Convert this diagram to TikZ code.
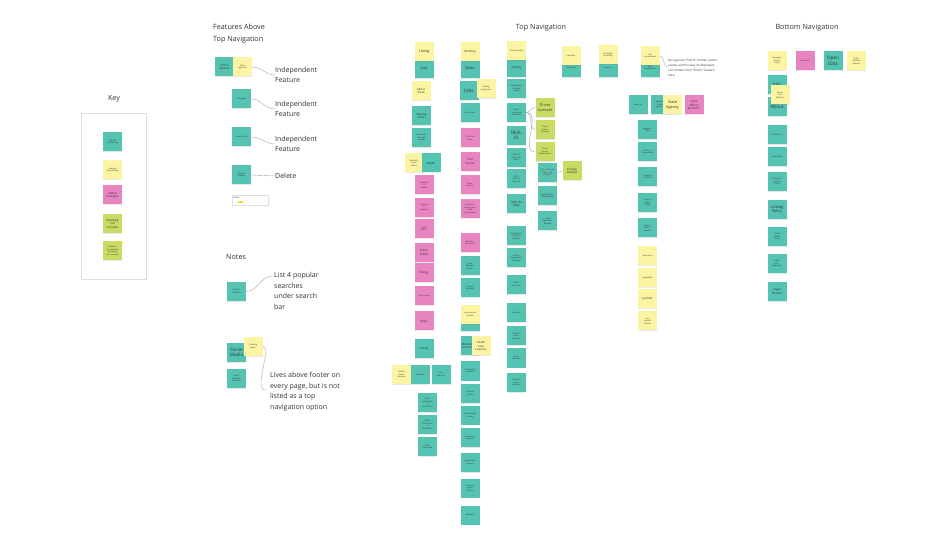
\documentclass[tikz,border=0pt]{standalone}
\usepackage{fontspec}
\setmainfont{Open Sans}
\usetikzlibrary{shadows,positioning}

\definecolor{stickyteal}{HTML}{55C3B1}
\definecolor{stickyyellow}{HTML}{FBF4A3}
\definecolor{stickypink}{HTML}{E884C0}
\definecolor{stickygreen}{HTML}{C8DC63}
\definecolor{ink}{HTML}{333333}
\definecolor{dotyellow}{HTML}{F7DC1E}

\begin{document}
\begin{tikzpicture}[
    x=1pt, y=-1pt,
    sticky/.style={rectangle, minimum width=19pt, minimum height=19pt, inner sep=0.3pt, align=center, text=ink,
        font=\fontsize{2}{2.5}\selectfont, drop shadow={shadow xshift=0pt, shadow yshift=-0.8pt, opacity=0.18}},
    tealnote/.style={sticky, fill=stickyteal},
    yelnote/.style={sticky, fill=stickyyellow},
    pinknote/.style={sticky, fill=stickypink},
    grnnote/.style={sticky, fill=stickygreen},
    midtxt/.style={font=\fontsize{2.9}{3.5}\selectfont},
    bigtxt/.style={font=\fontsize{3.8}{4.6}\selectfont},
    hugetxt/.style={font=\fontsize{4.6}{5.4}\selectfont},
    heading/.style={font=\fontsize{7.2}{12}\selectfont, text=ink, inner sep=0pt},
    remark/.style={font=\fontsize{7}{10.6}\selectfont, text=ink, align=left, inner sep=0pt, anchor=west},
    link/.style={draw=gray!70, line width=0.4pt},
    dot/.style={circle, fill=dotyellow, inner sep=0pt, minimum size=3.2pt}
]
    \useasboundingbox[fill=white] (0,0) rectangle (950,534);

    % headings
    \node[heading] (keyhead) at (114,99) {Key};
    \node[heading, anchor=west, align=left] (feathead) at (213,34) {Features Above\\Top Navigation};
    \node[heading] (tophead) at (541,28) {Top Navigation};
    \node[heading] (bothead) at (807,28) {Bottom Navigation};
    \node[heading, anchor=west] (noteshead) at (226,257) {Notes};

    % key
    \node[draw=gray!25, fill=white, minimum width=65pt, minimum height=166pt,
        drop shadow={shadow xshift=0pt, shadow yshift=-1pt, opacity=0.12}] (keyframe) at (113.5,196) {};
    \node[tealnote] (keyorig) at (112.5,142) {Original\\Terminology};
    \node[yelnote] (keyupd) at (112.5,170) {Updated\\Terminology};
    \node[pinknote, midtxt] (keyadd) at (112.5,195) {Added\\Concepts};
    \node[grnnote, midtxt] (keybreak) at (112.5,224) {Breaking\\out\\concepts};
    \node[grnnote] (keybreakupd) at (112.5,251) {Updated\\terminology\\breaking\\out concepts};
    \node[dot] (keydot) at (121.5,242.5) {};

    % features above top navigation
    \node[tealnote, midtxt] (findit) at (224.5,67) {Find It\\Feature};
    \node[yelnote] (stateag) at (242.5,67) {State\\Agencies};
    \node[remark] (indep1) at (275,75) {Independent\\Feature};
    \node[tealnote] (lang) at (241.5,99) {Language};
    \node[remark] (indep2) at (275,109) {Independent\\Feature};
    \node[tealnote] (access) at (241.5,137) {Accessibility};
    \node[remark] (indep3) at (275,144) {Independent\\Feature};
    \node[tealnote] (wrench) at (241.5,175) {Wrench\\Settings};
    \node[remark] (delete) at (275,176) {Delete};
    \node[draw=gray!25, fill=white, minimum width=36pt, minimum height=10pt] (notecard) at (250,200) {};
    \node[font=\fontsize{2.2}{2.6}\selectfont, text=ink, anchor=west, inner sep=0pt] (notecardlbl) at (233.5,197.5) {Notes};
    \node[fill=dotyellow, minimum width=5pt, minimum height=2pt, inner sep=0pt] (notecardbar) at (240.5,202.5) {};

    \draw[link] (stateag.east) to[out=0,in=180] (indep1.west);
    \draw[link] (lang.east) to[out=0,in=180] (indep2.west);
    \draw[link] (access.east) to[out=0,in=180] (indep3.west);
    \draw[link] (wrench.east) -- (delete.west);

    % notes
    \node[tealnote] (popular) at (236.5,291.5) {Popular\\Searches};
    \node[remark, anchor=north west] (list4) at (274,272) {List 4 popular\\searches\\under search\\bar};
    \node[tealnote, hugetxt] (social) at (236.5,352.5) {Social\\Media};
    \node[yelnote] (trending) at (253,346.5) {Trending\\News};
    \node[tealnote] (socialag) at (236.5,378.5) {Social\\Media By\\Agencies};
    \node[remark, anchor=north west] (lives) at (270,372) {Lives above footer on\\every page, but is not\\listed as a top\\navigation option};

    \draw[link] (popular.east) to[out=0,in=180] ([xshift=-2pt,yshift=-4pt]list4.north west);
    \draw[link] (trending.east) .. controls +(10,0) and +(-14,2) .. ([xshift=-4pt,yshift=-18pt]lives.north west);

    % top navigation: living
    \node[tealnote, bigtxt] (live) at (424,68.5) {Live};
    \node[yelnote, bigtxt] (living) at (424,51.5) {Living};
    \node[yelnote, midtxt] (abouttx) at (421,91) {About\\Texas};
    \node[tealnote, midtxt] (moving) at (421.5,116) {Moving\\Here};
    \node[tealnote] (newtx) at (421.5,137.5) {Resources\\for New\\Texans};
    \node[yelnote] (healthsj) at (414,163) {Health \&\\Social\\Justice};
    \node[tealnote, midtxt] (health) at (431,163) {Health};
    \node[pinknote] (families) at (424,185) {Families\\\&\\Children};
    \node[pinknote] (housing) at (424,207.5) {Housing\\\&\\Property};
    \node[pinknote] (legal) at (424,229) {Legal \&\\Justice};
    \node[pinknote, midtxt] (pubsafety) at (424,252.5) {Public\\Safety};
    \node[pinknote, midtxt] (energy) at (424,273) {Energy};
    \node[pinknote] (environ) at (424,296) {Environment};
    \node[pinknote, midtxt] (taxes) at (424,321) {Taxes};
    \node[tealnote, midtxt] (voting) at (424,349) {Voting};
    \node[yelnote] (vitalpub) at (401.5,374.5) {Vital \&\\Public\\Records};
    \node[tealnote] (records1) at (420.5,374.5) {Records};
    \node[tealnote] (vitalrec) at (441,374.5) {Vital\\Records};
    \node[tealnote] (birthcert) at (427.5,402.5) {Birth\\Certificates\\\&\\Verification};
    \node[tealnote] (deathcert) at (427.5,424.5) {Death\\Certificates\\\&\\Verification};
    \node[tealnote] (marrcert) at (427.5,446.5) {Birth\\Certificate};

    % top navigation: working
    \node[tealnote, bigtxt] (work) at (470,68.5) {Work};
    \node[yelnote, midtxt] (working) at (470,51.5) {Working};
    \node[tealnote, hugetxt] (jobs) at (469,91) {Jobs};
    \node[yelnote] (findemp) at (486,88.5) {Finding\\Employees};
    \node[tealnote] (intern) at (470,112.5) {Internships};
    \node[pinknote] (workfortx) at (470,138) {Work for\\Texas};
    \node[pinknote, midtxt] (civil) at (470,161.5) {Civil\\Service};
    \node[pinknote] (career) at (470,185) {Career\\Services};
    \node[pinknote] (workforce) at (470,209) {Workforce\\Training and\\Labor\\Development};
    \node[pinknote] (busres) at (470,243) {Business\\Resources};
    \node[tealnote] (bizadvisor) at (470,266) {Texas\\Business\\Advisor};
    \node[tealnote] (doingbiz) at (470,288) {Doing\\Business};
    \node[tealnote] (licenses) at (470,322) {Licenses};
    \node[yelnote] (licperm) at (470,314.5) {Licenses and\\Permits};
    \node[tealnote, midtxt, text width=17pt, align=left] (medlic) at (470,346) {Medical\\Licenses};
    \node[yelnote, midtxt] (healthcare) at (481,346) {Health\\Care\\Licenses};
    \node[tealnote] (accountlic) at (470,371) {Accounting\\License};
    \node[tealnote] (archlic) at (470,393.5) {Architect\\License};
    \node[tealnote] (cosmolic) at (470,415) {Cosmetology\\License};
    \node[tealnote] (eleclic) at (470,437.5) {Electrician\\License};
    \node[tealnote] (englic) at (470,462.5) {Engineering\\License};
    \node[tealnote] (inslic) at (470,488) {Insurance\\Agent\\License};
    \node[tealnote] (business) at (470,515) {Business};

    % top navigation: transportation
    \node[tealnote, midtxt] (driving) at (516.5,68) {Driving};
    \node[yelnote] (transport) at (516.5,51) {Transportation};
    \node[tealnote] (dpsagency) at (516.5,89) {Department\\of Public\\Safety};
    \node[tealnote] (dlrenew) at (516.5,112.5) {Driver\\Licenses \&\\Renewals};
    \node[tealnote, hugetxt] (realid) at (516.5,135.5) {REAL\\ID};
    \node[tealnote] (realiddoc) at (516.5,157.5) {REAL ID\\Document\\Check};
    \node[tealnote] (dpsweb) at (516.5,179) {DPS\\REAL ID\\website};
    \node[tealnote, midtxt] (realidfaq) at (516.5,204) {REAL ID\\FAQs};
    \node[tealnote] (dmv) at (516.5,236) {Department\\of Motor\\Vehicles};
    \node[tealnote] (vehreg) at (516.5,258) {Vehicle\\Registration\\Renewal};
    \node[tealnote] (drivered) at (516.5,284.5) {Driver\\Education};
    \node[tealnote] (records2) at (516.5,312.5) {Records};
    \node[tealnote] (certrec) at (516.5,336) {Certified\\Driver\\Records};
    \node[tealnote] (drvrec) at (516.5,358) {Driver\\Records};
    \node[tealnote] (persrec) at (516.5,382.5) {Personal\\Driver\\Records};

    \node[grnnote, bigtxt] (drvlic) at (545,107.5) {Driver\\Licenses};
    \node[grnnote] (drvlicren) at (545,129.5) {Driver\\License\\Renewal};
    \node[grnnote] (drvrecrep) at (545,152) {Driver\\Record\\Replacement};
    \node[dot] (dotren) at (553.5,122) {};
    \node[dot] (dotrep) at (553.5,144.5) {};
    \node[tealnote] (addrold) at (547.5,172.5) {Driver License\\Change of\\Address};
    \node[grnnote, midtxt] (chgaddr) at (572,171) {Change\\Address};
    \node[tealnote] (vehtitle) at (547.5,196) {Vehicle Title\\\& Registration};
    \node[tealnote] (crashrep) at (547.5,221) {Crash\\Reports \&\\Records};

    \draw[link] (dlrenew.east) to[out=0,in=180] (drvlic.west);
    \draw[link] (dlrenew.east) to[out=0,in=180] (drvlicren.west);
    \draw[link] (dlrenew.east) to[out=0,in=180] (drvrecrep.west);
    \draw[gray!60, line width=0.3pt] (addrold.north west) -- (addrold.south east)
        (addrold.north east) -- (addrold.south west);
    \draw[link] (chgaddr.west) to[out=180,in=0] (addrold.east);

    % top navigation: learning, visiting, government
    \node[tealnote] (education) at (571,67.5) {Education};
    \node[yelnote] (learning) at (571,56) {Learning};
    \node[tealnote] (explore) at (608,68) {Explore};
    \node[yelnote] (visiting) at (608,55) {Visiting \&\\Exploring};
    \node[tealnote] (stategov) at (650,68) {State\\Government};
    \node[yelnote] (yourgov) at (650,56) {Your\\Government};
    \node[font=\fontsize{3}{5}\selectfont, text=ink, align=left, anchor=west, inner sep=0pt] (findnote) at (668,67.5)
        {Re-organize ``Find It'' format, search\\results and the way it's displayed.\\List content from ``Find It'' feature\\here.};
    \draw[link] (yourgov.east) to[out=0,in=180] (findnote.west);

    \node[tealnote] (agencies) at (638,105) {Agencies};
    \node[tealnote] (agenciesst) at (660,105) {Agencies\\(State\\Agencies)};
    \node[yelnote, bigtxt] (stateagency) at (672.5,105) {State\\Agency};
    \node[pinknote, midtxt] (stateoffices) at (694,105) {State\\Offices\\\& Courts};
    \node[tealnote] (governor) at (647.5,130) {Governor's\\Office};
    \node[tealnote] (comptroller) at (647.5,152) {Office of\\Comptroller};
    \node[tealnote] (secstate) at (647.5,177) {Secretary\\of State};
    \node[tealnote] (deptps) at (647.5,202.5) {Dept of\\Public\\Safety};
    \node[tealnote] (deptmv) at (647.5,228) {Dept of\\Motor\\Vehicles};
    \node[yelnote] (executive) at (647.5,256) {Executive};
    \node[yelnote] (legislative) at (647.5,277.5) {Legislative};
    \node[yelnote, midtxt] (judicial) at (647.5,299) {Judicial};
    \node[yelnote] (elected) at (647.5,321) {Your\\elected\\officials};

    % bottom navigation
    \node[yelnote] (privacy) at (777,61) {Texas.gov\\Privacy\\Policy};
    \node[pinknote] (resources) at (805,61) {Resources};
    \node[tealnote, hugetxt] (opendata) at (833,61) {Open\\Data};
    \node[yelnote] (pubrecreq) at (856.5,61) {Public\\Records\\Request};
    \node[tealnote, hugetxt] (info) at (777,85) {Info};
    \node[tealnote, hugetxt] (about) at (777,106.5) {About};
    \node[yelnote] (aboutsite) at (780,95) {About\\this\\Website};
    \node[tealnote] (assist) at (777,135) {Assistance};
    \node[tealnote] (trademarks) at (777,157) {Trademarks};
    \node[tealnote] (privsec) at (777,182) {Privacy \&\\Security\\Policy};
    \node[tealnote, bigtxt] (linking) at (777,209.5) {Linking\\Policy};
    \node[tealnote] (socialpol) at (777,236.5) {Social\\Media\\Policy};
    \node[tealnote] (pubinfo) at (777,263.5) {Public\\Info\\Requests};
    \node[tealnote, midtxt] (legalnot) at (777,291.5) {Legal\\Notices};
\end{tikzpicture}
\end{document}
